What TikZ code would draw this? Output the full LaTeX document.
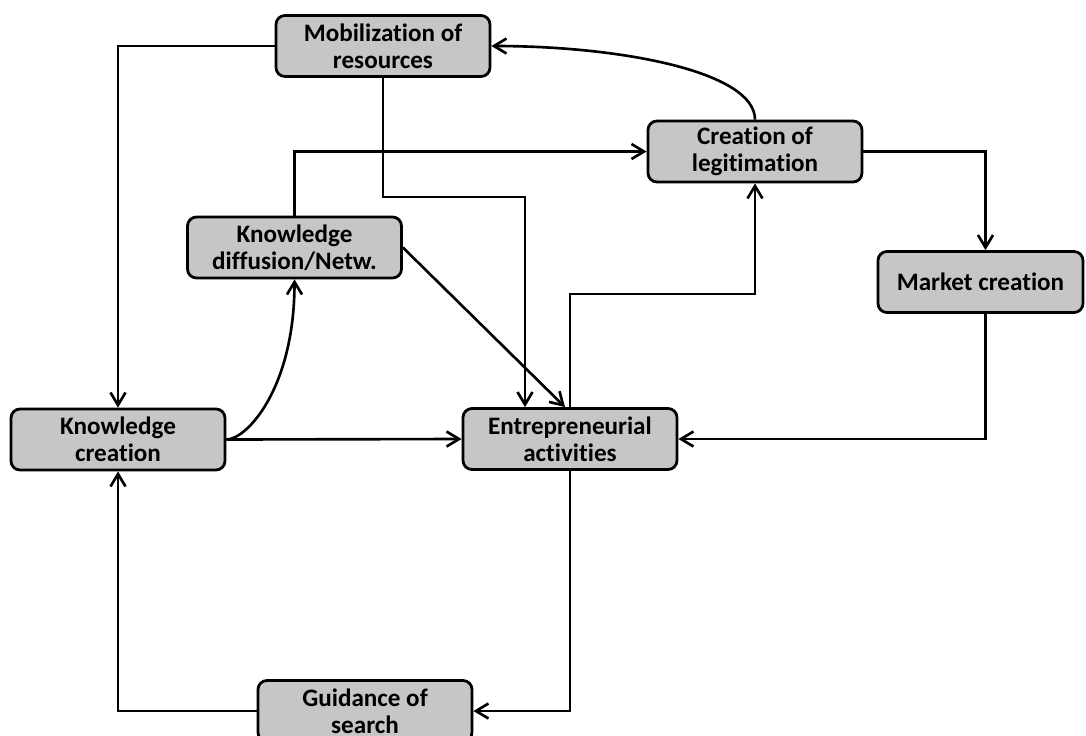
\documentclass[tikz,border=0pt]{standalone}
\usepackage{fontspec}
\setmainfont{Carlito}[Ligatures=NoCommon]
\usetikzlibrary{arrows.meta}

\definecolor{boxgray}{RGB}{198,198,198}
\tikzset{
    block/.style={draw, line width=1.6pt, rounded corners=1.8mm, fill=boxgray,
        minimum width=42.8mm, minimum height=12.2mm, inner sep=0pt, align=center,
        font=\bfseries\fontsize{14.3}{15.2}\selectfont},
    link/.style={line width=1.5pt, -{Straight Barb[length=2.5mm,width=3mm]}}
}

\begin{document}
\begin{tikzpicture}[x=0.2mm, y=-0.2mm]
    \useasboundingbox (0,0) rectangle (1086,735);
    % functions
    \node[block] (mob) at (383,46) {Mobilization of\\resources};
    \node[block] (legit) at (755,151.5) {Creation of\\legitimation};
    \node[block] (diff) at (294.5,247.5) {Knowledge\\diffusion/Netw.};
    \node[block, minimum width=41mm] (market) at (980.5,282) {Market creation};
    \node[block] (kcreate) at (118,439.5) {Knowledge\\creation};
    \node[block] (entre) at (570,439) {Entrepreneurial\\activities};
    \node[block] (guide) at (365,711) {Guidance of\\search};
    % interactions
    \draw[link] (mob.west) -| (kcreate.north);
    \draw[link] (mob.south) -- ++(0,119) -| ([xshift=-9mm]entre.north);
    \draw[link] (legit.north) to[out=90, in=0, out looseness=0.45, in looseness=1.2] (mob.east);
    \draw[link] (diff.north) |- (legit.west);
    \draw[link] (legit.east) -| ([xshift=1mm]market.north);
    \draw[link] ([xshift=1mm]market.south) |- (entre.east);
    \draw[link] (kcreate.east) -- (entre.west);
    \draw[link] (kcreate.east) to[out=0, in=-90, out looseness=0.3, in looseness=1.6] (diff.south);
    \draw[link] (diff.east) -- ([xshift=-1mm]entre.north);
    \draw[link] (entre.north) -- ++(0,-113) -| (legit.south);
    \draw[link] (entre.south) |- (guide.east);
    \draw[link] (guide.west) -| (kcreate.south);
\end{tikzpicture}
\end{document}
